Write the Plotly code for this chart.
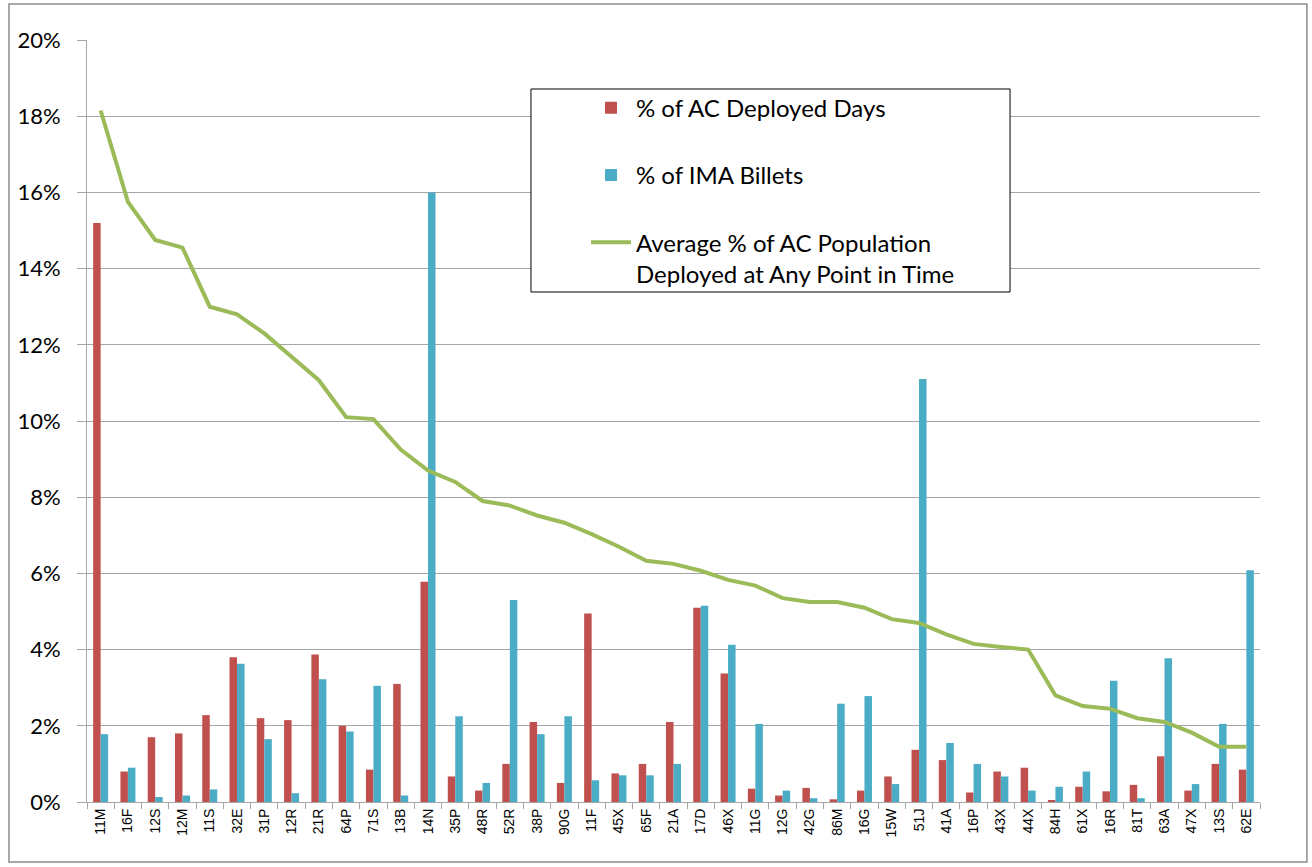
import plotly.graph_objects as go

categories = ["11M","16F","12S","12M","11S","32E","31P","12R","21R","64P","71S","13B","14N","35P",
              "48R","52R","38P","90G","11F","45X","65F","21A","17D","46X","11G","12G","42G","86M",
              "16G","15W","51J","41A","16P","43X","44X","84H","61X","16R","81T","63A","47X","13S","62E"]

ac_deployed_days = [15.2,0.8,1.7,1.8,2.28,3.8,2.2,2.15,3.87,2.0,0.85,3.1,5.78,0.67,
                    0.3,1.0,2.1,0.5,4.95,0.75,1.0,2.1,5.1,3.37,0.35,0.17,0.37,0.07,
                    0.3,0.67,1.37,1.1,0.25,0.8,0.9,0.05,0.4,0.28,0.45,1.2,0.3,1.0,0.85]

ima_billets = [1.78,0.9,0.13,0.17,0.33,3.63,1.65,0.23,3.22,1.85,3.05,0.17,16.0,2.25,
               0.5,5.3,1.78,2.25,0.57,0.7,0.7,1.0,5.15,4.13,2.05,0.3,0.1,2.58,
               2.78,0.47,11.1,1.55,1.0,0.67,0.3,0.4,0.8,3.18,0.1,3.77,0.47,2.05,6.08]

avg_ac_population = [18.15,15.75,14.75,14.55,13.0,12.8,12.3,11.7,11.07,10.1,10.05,9.25,8.7,8.4,
                     7.9,7.78,7.52,7.33,7.03,6.7,6.33,6.25,6.07,5.83,5.68,5.35,5.25,5.25,
                     5.1,4.8,4.7,4.4,4.15,4.07,4.0,2.8,2.52,2.45,2.2,2.1,1.82,1.45,1.45]

y_tickvals = [0, 2, 4, 6, 8, 10, 12, 14, 16, 18, 20]
y_ticktext = ["0%", "2%", "4%", "6%", "8%", "10%", "12%", "14%", "16%", "18%", "20%"]

RED = "#C0504D"
BLUE = "#4BACC6"
GREEN = "#9BBB59"
GRID = "#A6A6A6"

fig = go.Figure()
fig.add_trace(go.Bar(x=categories, y=ac_deployed_days, name="% of AC Deployed Days",
                     marker=dict(color=RED, line=dict(width=0)), legendgroup="a"))
fig.add_trace(go.Bar(x=categories, y=ima_billets, name="% of IMA Billets",
                     marker=dict(color=BLUE, line=dict(width=0)), legendgroup="b"))
fig.add_trace(go.Scatter(x=categories, y=avg_ac_population, mode="lines",
                         name="Average % of AC Population<br>Deployed at Any Point in Time",
                         line=dict(color=GREEN, width=4), legendgroup="c"))

# chart outer border and legend box
fig.add_shape(type="rect", xref="paper", yref="paper", x0=-0.0665, x1=1.040, y0=-0.0787, y1=1.0472,
              line=dict(color="#8C8C8C", width=1.5), fillcolor="rgba(0,0,0,0)", layer="below")
fig.add_shape(type="rect", xref="paper", yref="paper", x0=0.3785, x1=0.7869, y0=0.6693, y1=0.9357,
              line=dict(color="#000000", width=1), fillcolor="white", layer="above")

fig.update_layout(
    width=1312, height=867,
    margin=dict(l=87, r=52, t=40, b=65),
    paper_bgcolor="white", plot_bgcolor="white",
    barmode="group", bargap=0.45, bargroupgap=0,
    showlegend=True,
    legend=dict(x=0.4254, y=0.94, xanchor="left", yanchor="top",
                bgcolor="rgba(0,0,0,0)", borderwidth=0,
                font=dict(family="Lato, Open Sans, sans-serif", size=24, color="#000000"),
                tracegroupgap=33, traceorder="grouped", valign="top", itemwidth=40),
    xaxis=dict(type="category", showgrid=False, showline=True, linecolor=GRID, linewidth=1,
               ticks="outside", ticklen=6, tickcolor=GRID, tickson="boundaries",
               tickangle=-90, tickfont=dict(family="Liberation Sans, Arial, sans-serif", size=14, color="#000000"),
               range=[-0.5, len(categories) - 0.5]),
    yaxis=dict(range=[0, 20], tickvals=y_tickvals, ticktext=y_ticktext,
               showgrid=True, gridcolor=GRID, gridwidth=1,
               showline=True, linecolor=GRID, linewidth=1,
               ticks="outside", ticklen=9, tickcolor=GRID, ticklabelstandoff=12,
               tickfont=dict(family="Lato, Open Sans, sans-serif", size=22, color="#000000"),
               zeroline=False),
)

fig.write_html("out.html", config={"displayModeBar": False},
               post_script="document.body.style.margin='0';document.body.style.overflow='hidden';")
